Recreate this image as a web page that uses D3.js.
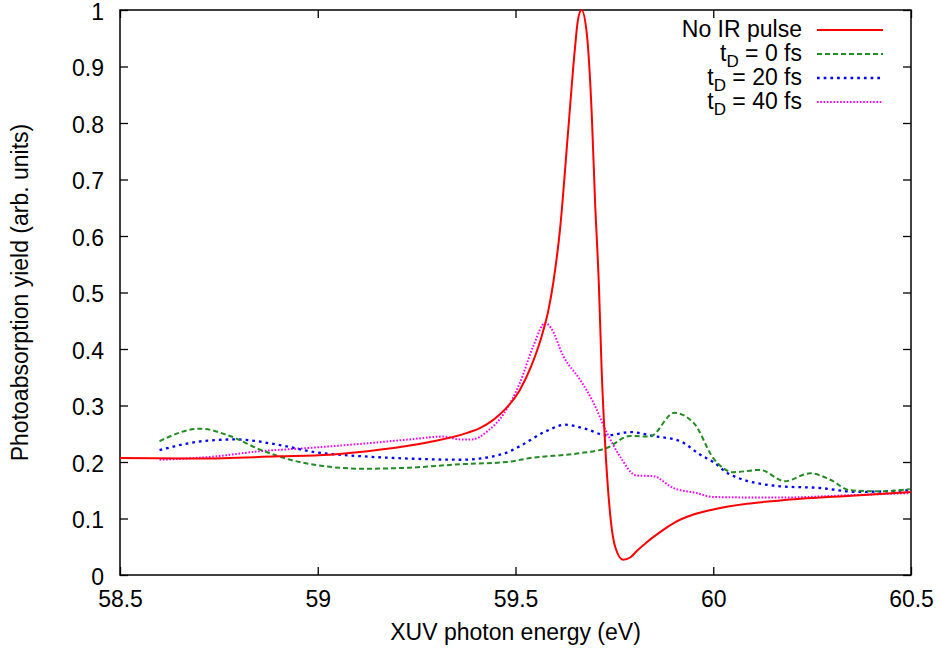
<!DOCTYPE html>
<html>
<head>
<meta charset="utf-8">
<script src="https://cdn.jsdelivr.net/npm/d3@7"></script>
<style>
  body { margin: 0; background: #fff; }
  svg text { font-family: "Liberation Sans", Arial, sans-serif; fill: #000; }
</style>
</head>
<body>
<div id="chart"></div>
<script>
// No IR pulse
const energyNoIR = [58.50, 58.70, 58.90, 59.03, 59.16, 59.28, 59.38, 59.41, 59.46, 59.51, 59.54, 59.57, 59.583, 59.595, 59.613, 59.633, 59.650, 59.658, 59.667, 59.680, 59.693, 59.701, 59.711, 59.718, 59.726, 59.739, 59.752, 59.772, 59.79, 59.806, 59.832, 59.87, 59.90, 59.95, 60.00, 60.085, 60.17, 60.34, 60.50];
const yieldNoIR = [0.207, 0.206, 0.210, 0.213, 0.222, 0.235, 0.252, 0.260, 0.284, 0.326, 0.370, 0.432, 0.468, 0.515, 0.615, 0.785, 0.930, 0.983, 1.000, 0.960, 0.812, 0.664, 0.510, 0.360, 0.240, 0.110, 0.050, 0.027, 0.031, 0.042, 0.058, 0.078, 0.092, 0.107, 0.116, 0.126, 0.132, 0.140, 0.147];

// t_D = 0 fs
const energyT0 = [58.60, 58.702, 58.778, 58.854, 58.93, 59.013, 59.114, 59.233, 59.36, 59.478, 59.537, 59.655, 59.731, 59.79, 59.84, 59.901, 59.952, 60.0, 60.051, 60.118, 60.181, 60.245, 60.295, 60.346, 60.422, 60.497];
const yieldT0 = [0.237, 0.259, 0.246, 0.222, 0.204, 0.193, 0.188, 0.190, 0.196, 0.200, 0.207, 0.215, 0.225, 0.246, 0.245, 0.287, 0.268, 0.207, 0.182, 0.186, 0.166, 0.180, 0.169, 0.150, 0.148, 0.152];

// t_D = 20 fs
const energyT20 = [58.60, 58.71, 58.795, 58.896, 58.997, 59.115, 59.233, 59.36, 59.443, 59.486, 59.511, 59.579, 59.625, 59.68, 59.731, 59.79, 59.848, 59.916, 59.967, 60.0, 60.042, 60.169, 60.27, 60.363, 60.497];
const yieldT20 = [0.221, 0.237, 0.240, 0.231, 0.217, 0.210, 0.206, 0.204, 0.210, 0.219, 0.228, 0.255, 0.266, 0.258, 0.247, 0.253, 0.246, 0.237, 0.213, 0.200, 0.178, 0.157, 0.154, 0.147, 0.150];

// t_D = 40 fs
const energyT40 = [58.60, 58.728, 58.854, 58.98, 59.107, 59.233, 59.317, 59.36, 59.39, 59.43, 59.47, 59.511, 59.545, 59.575, 59.59, 59.621, 59.663, 59.697, 59.731, 59.764, 59.806, 59.848, 59.899, 59.958, 60.0, 60.169, 60.337, 60.497];
const yieldT40 = [0.204, 0.209, 0.219, 0.225, 0.232, 0.240, 0.245, 0.240, 0.240, 0.255, 0.285, 0.340, 0.405, 0.446, 0.437, 0.387, 0.346, 0.305, 0.252, 0.210, 0.176, 0.175, 0.154, 0.145, 0.138, 0.137, 0.141, 0.145];

const xTicks = [58.5, 59, 59.5, 60, 60.5];
const yTicks = [0, 0.1, 0.2, 0.3, 0.4, 0.5, 0.6, 0.7, 0.8, 0.9, 1];

const seriesNames = ["No IR pulse", "t_D = 0 fs", "t_D = 20 fs", "t_D = 40 fs"];

const width = 942, height = 655;
const margin = {left: 120, right: 31, top: 10, bottom: 80};
const innerW = width - margin.left - margin.right;
const innerH = height - margin.top - margin.bottom;

const svg = d3.select("#chart").append("svg")
  .attr("width", width)
  .attr("height", height);

const x = d3.scaleLinear().domain([58.5, 60.5]).range([margin.left, margin.left + innerW]);
const y = d3.scaleLinear().domain([0, 1]).range([margin.top + innerH, margin.top]);

svg.append("clipPath").attr("id", "plotclip")
  .append("rect")
  .attr("x", margin.left).attr("y", margin.top - 2)
  .attr("width", innerW).attr("height", innerH + 2);

// axes (ticks point inward, mirrored on top and right)
const fmt = d => String(d);
svg.append("g")
  .attr("transform", `translate(0,${margin.top + innerH})`)
  .call(d3.axisBottom(x).tickValues(xTicks).tickSize(-8).tickPadding(16).tickFormat(fmt));
const leftAxis = svg.append("g")
  .attr("transform", `translate(${margin.left},0)`)
  .call(d3.axisLeft(y).tickValues(yTicks).tickSize(-8).tickPadding(16).tickFormat(fmt));
svg.append("g")
  .attr("transform", `translate(0,${margin.top})`)
  .call(d3.axisTop(x).tickValues(xTicks).tickSize(-8).tickFormat(""));
svg.append("g")
  .attr("transform", `translate(${margin.left + innerW},0)`)
  .call(d3.axisRight(y).tickValues(yTicks).tickSize(-8).tickFormat(""));

svg.selectAll(".domain").remove();
svg.selectAll(".tick line").attr("stroke", "#000").attr("stroke-width", 1.3);
svg.selectAll(".tick text").style("font-size", "23px").attr("fill", "#000");
leftAxis.selectAll(".tick text").attr("dy", "0.4em");

svg.append("rect")
  .attr("x", margin.left).attr("y", margin.top)
  .attr("width", innerW).attr("height", innerH)
  .attr("fill", "none").attr("stroke", "#000").attr("stroke-width", 1.5);

// axis titles
svg.append("text")
  .attr("x", margin.left + innerW / 2)
  .attr("y", 640)
  .attr("text-anchor", "middle")
  .style("font-size", "23px")
  .text("XUV photon energy (eV)");

svg.append("text")
  .attr("transform", `translate(28,${margin.top + innerH / 2}) rotate(-90)`)
  .attr("text-anchor", "middle")
  .style("font-size", "23px")
  .text("Photoabsorption yield (arb. units)");

// curves
const series = [
  {e: energyNoIR, v: yieldNoIR, color: "#ff0000", dash: null, w: 2},
  {e: energyT0, v: yieldT0, color: "#228b22", dash: "5,3", w: 2},
  {e: energyT20, v: yieldT20, color: "#0000ff", dash: "2.7,4", w: 2.3},
  {e: energyT40, v: yieldT40, color: "#ff00ff", dash: "1.6,1.7", w: 2}
];

const line = d3.line()
  .x(d => x(d[0]))
  .y(d => y(d[1]))
  .curve(d3.curveMonotoneX);

const plot = svg.append("g").attr("clip-path", "url(#plotclip)");

// draw back to front so red ends on top
for (let i = series.length - 1; i >= 0; i--) {
  const s = series[i];
  const pts = s.e.map((e, k) => [e, s.v[k]]);
  plot.append("path")
    .datum(pts)
    .attr("d", line)
    .attr("fill", "none")
    .attr("stroke", s.color)
    .attr("stroke-width", s.w)
    .attr("stroke-dasharray", s.dash);
}

// legend
const legend = svg.append("g");
seriesNames.forEach((name, i) => {
  const ly = 30 + i * 24;
  const s = series[i];
  legend.append("line")
    .attr("x1", 817).attr("x2", 883)
    .attr("y1", ly).attr("y2", ly)
    .attr("stroke", s.color)
    .attr("stroke-width", s.w)
    .attr("stroke-dasharray", s.dash);

  const t = legend.append("text")
    .attr("x", 802)
    .attr("y", ly + 7)
    .attr("text-anchor", "end")
    .style("font-size", "23px");
  if (name.startsWith("t_D")) {
    t.append("tspan").text("t");
    t.append("tspan").attr("dy", 6).style("font-size", "17px").text("D");
    t.append("tspan").attr("dy", -6).text(name.slice(3));
  } else {
    t.text(name);
  }
});
</script>
</body>
</html>
